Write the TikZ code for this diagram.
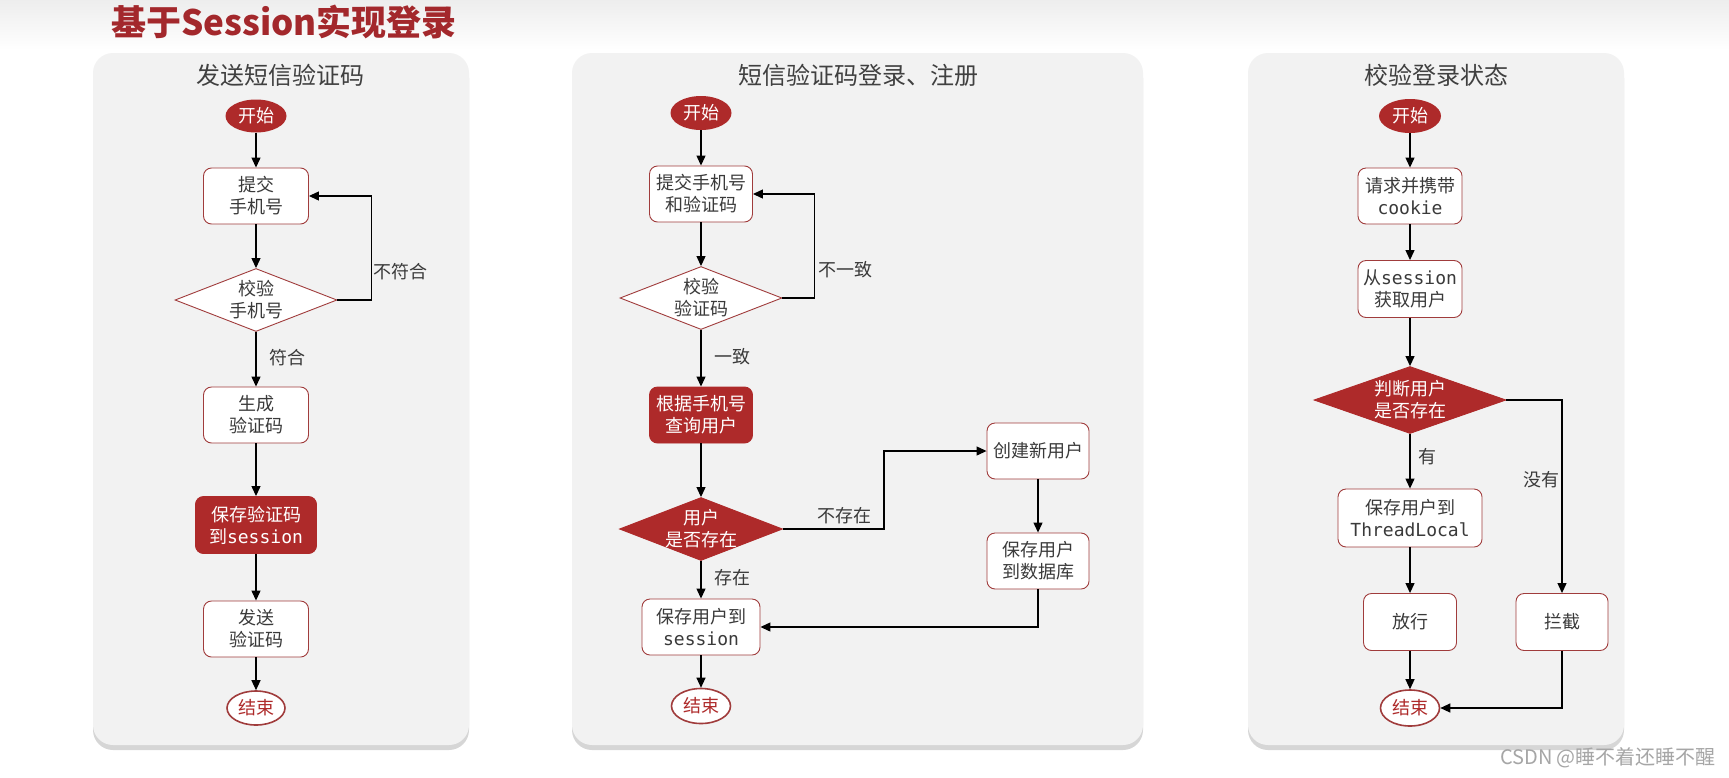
\documentclass[tikz,border=0pt]{standalone}
\usepackage{fontspec}
\usepackage{tikz}
\usetikzlibrary{arrows.meta,positioning,shapes.geometric,shadows}
\setmainfont{Noto Sans CJK SC}
\newfontfamily\monofont{DejaVu Sans Mono}
\definecolor{panel-bg}{HTML}{F2F2F2}
\definecolor{flow-red}{HTML}{AE2A2A}
\definecolor{flow-edge}{HTML}{A03C3C}
\definecolor{flow-text}{HTML}{3A3A3A}
\definecolor{title-red}{HTML}{A3282C}
\newcommand{\code}[1]{{\monofont #1}}

\begin{document}
\begin{tikzpicture}[x=1pt, y=-1pt,
    every node/.style={font=\fontsize{18}{22}\selectfont, text=flow-text},
    panel/.style={fill=panel-bg, rounded corners=20pt,
        drop shadow={shadow xshift=0pt, shadow yshift=-5pt, fill=black!45, opacity=0.35}},
    paneltitle/.style={font=\fontsize{24}{28}\selectfont, text=black!75},
    box/.style={draw=flow-edge, line width=0.9pt, fill=white, rounded corners=8pt,
        align=center, minimum width=105pt, minimum height=56pt, inner sep=2pt},
    redbox/.style={box, fill=flow-red, draw=flow-red, text=white},
    startnode/.style={ellipse, fill=flow-red, text=white, minimum height=33pt, inner sep=0pt},
    endnode/.style={ellipse, draw=flow-edge, line width=1.6pt, fill=white, text=flow-red,
        minimum height=34pt, inner sep=0pt},
    check/.style={diamond, draw=flow-edge, line width=0.9pt, fill=white, align=center,
        inner sep=-2pt, minimum height=63pt},
    redcheck/.style={check, fill=flow-red, draw=flow-red, text=white},
    flow/.style={-{Triangle[length=10pt,width=9pt]}, line width=1.2pt, black}]
    \useasboundingbox (0,0) rectangle (1729,777);
    \fill[white] (0,0) rectangle (1729,777);
    \shade[top color=black!7, bottom color=white] (0,0) rectangle (1729,50);
    \node[font=\fontsize{35}{40}\selectfont\bfseries, text=title-red] (title) at (284,22) {基于Session实现登录};

    % panels
    \fill[panel] (93,53) rectangle (469,745);
    \fill[panel] (572,53) rectangle (1143,745);
    \fill[panel] (1248,53) rectangle (1624,745);
    \node[paneltitle] (t1) at (280,75) {发送短信验证码};
    \node[paneltitle] (t2) at (858,75) {短信验证码登录、注册};
    \node[paneltitle] (t3) at (1436,75) {校验登录状态};

    % send code
    \node[startnode, minimum width=61pt] (s1) at (256,116) {开始};
    \node[box] (p1) at (256,196) {提交\\手机号};
    \node[check, aspect=2.6, minimum width=162pt] (c1) at (256,300) {校验\\手机号};
    \node[box] (g1) at (256,415) {生成\\验证码};
    \node[redbox, minimum width=121pt, minimum height=57pt] (v1) at (256,525) {保存验证码\\到\code{session}};
    \node[box] (d1) at (256,629) {发送\\验证码};
    \node[endnode, minimum width=58pt] (e1) at (256,708) {结束};
    \draw[flow] (s1) -- (p1);
    \draw[flow] (p1) -- (c1);
    \draw[flow] (c1) -- (g1);
    \draw[flow] (g1) -- (v1);
    \draw[flow] (v1) -- (d1);
    \draw[flow] (d1) -- (e1);
    \draw[flow] (c1.east) -- ++(34,0) |- (p1.east);
    \node (l-nomatch) at (400,272) {不符合};
    \node (l-match) at (287,358) {符合};

    % login / register
    \node[startnode, minimum width=61pt, minimum height=34pt] (s2) at (701,113) {开始};
    \node[box, minimum width=103pt] (p2) at (701,194) {提交手机号\\和验证码};
    \node[check, aspect=2.6, minimum width=162pt] (c2) at (701,298) {校验\\验证码};
    \node[redbox, minimum width=103pt] (q2) at (701,415) {根据手机号\\查询用户};
    \node[redcheck, aspect=2.6, inner sep=-4pt, minimum width=163pt] (u2) at (701,529) {用户\\是否存在};
    \node[box, minimum width=102pt] (n2) at (1038,451) {创建新用户};
    \node[box, minimum width=102pt] (db2) at (1038,561) {保存用户\\到数据库};
    \node[box, minimum width=118pt] (ss2) at (701,627) {保存用户到\\\code{session}};
    \node[endnode, minimum width=59pt, minimum height=35pt] (e2) at (701,706) {结束};
    \draw[flow] (s2) -- (p2);
    \draw[flow] (p2) -- (c2);
    \draw[flow] (c2) -- (q2);
    \draw[flow] (q2) -- (u2);
    \draw[flow] (u2) -- (ss2);
    \draw[flow] (ss2) -- (e2);
    \draw[flow] (c2.east) -- ++(32,0) |- (p2.east);
    \draw[flow] (u2.east) -- ++(101,0) |- (n2.west);
    \draw[flow] (n2) -- (db2);
    \draw[flow] (db2.south) |- (ss2.east);
    \node (l-differ) at (845,270) {不一致};
    \node (l-same) at (732,357) {一致};
    \node (l-absent) at (844,516) {不存在};
    \node (l-present) at (732,578) {存在};

    % check login state
    \node[startnode, minimum width=62pt, minimum height=34pt] (s3) at (1410,116) {开始};
    \node[box, minimum width=104pt] (r3) at (1410,196) {请求并携带\\\code{cookie}};
    \node[box, minimum width=104pt, minimum height=57pt] (f3) at (1410,289) {从\code{session}\\获取用户};
    \node[redcheck, aspect=2.6, minimum width=192pt, minimum height=67pt] (j3) at (1410,400) {判断用户\\是否存在};
    \node[box, minimum width=144pt, minimum height=58pt] (tl3) at (1410,518) {保存用户到\\\code{ThreadLocal}};
    \node[box, minimum width=93pt, minimum height=57pt] (ok3) at (1410,622) {放行};
    \node[box, minimum width=92pt, minimum height=57pt] (bl3) at (1562,622) {拦截};
    \node[endnode, minimum width=59pt, minimum height=36pt] (e3) at (1410,708) {结束};
    \draw[flow] (s3) -- (r3);
    \draw[flow] (r3) -- (f3);
    \draw[flow] (f3) -- (j3);
    \draw[flow] (j3) -- (tl3);
    \draw[flow] (tl3) -- (ok3);
    \draw[flow] (ok3) -- (e3);
    \draw[flow] (j3.east) -| (bl3.north);
    \draw[flow] (bl3.south) |- (e3.east);
    \node (l-yes) at (1427,457) {有};
    \node (l-no) at (1541,480) {没有};

    \node[font=\fontsize{20}{24}\selectfont, text=black!35] (mark) at (1608,758) {CSDN @睡不着还睡不醒};
\end{tikzpicture}
\end{document}
